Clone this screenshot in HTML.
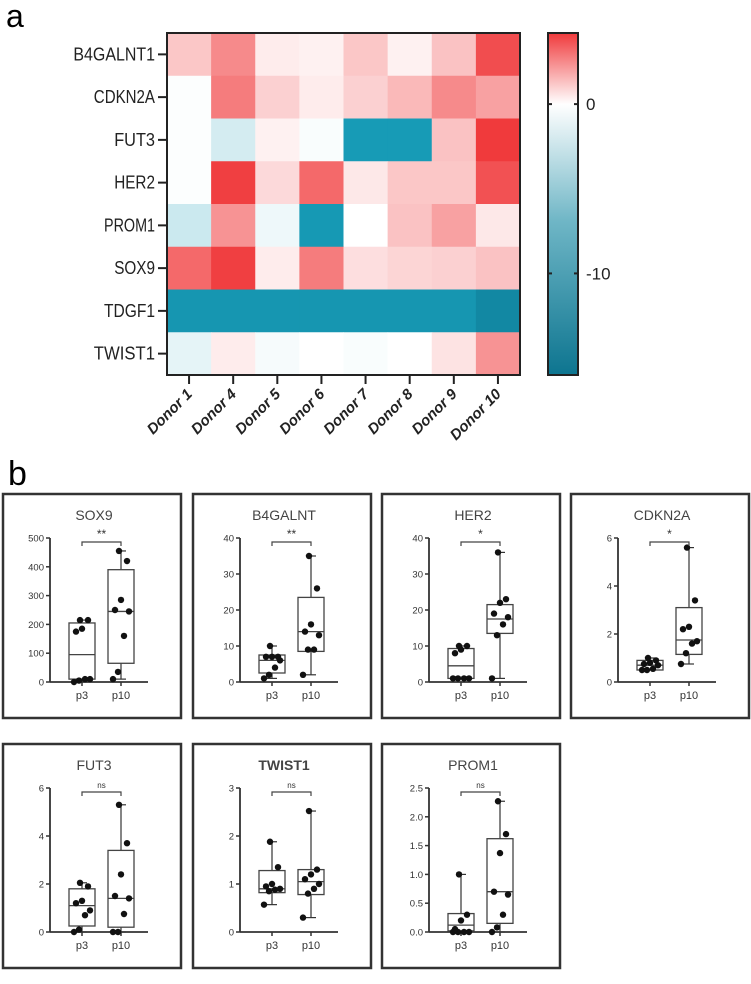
<!DOCTYPE html>
<html><head><meta charset="utf-8">
<style>
body{margin:0;background:#fff;width:751px;height:984px;overflow:hidden;font-family:"Liberation Sans",Arial,sans-serif}
svg{position:absolute;left:0;top:0}
</style></head>
<body>
<svg id="fig" width="751" height="984" viewBox="0 0 751 984">
<defs>
<linearGradient id="cbar" x1="0" y1="0" x2="0" y2="1">
<stop offset="0" stop-color="#f03a3c"/>
<stop offset="0.208" stop-color="#ffffff"/>
<stop offset="0.55" stop-color="#6fb6c6"/>
<stop offset="1" stop-color="#0d7590"/>
</linearGradient>
</defs>
<text x="6" y="27" font-size="32">a</text>
<text x="8" y="485" font-size="34">b</text>
<g id="heat"></g>
<g id="boxes"></g>
</svg>
<script>
const NS="http://www.w3.org/2000/svg";
const genes=["B4GALNT1","CDKN2A","FUT3","HER2","PROM1","SOX9","TDGF1","TWIST1"];
const donors=["Donor 1","Donor 4","Donor 5","Donor 6","Donor 7","Donor 8","Donor 9","Donor 10"];
const heatValues=[
[1.2,2.5,0.4,0.3,1.2,0.3,1.3,3.8],
[-0.1,2.8,1.0,0.4,1.0,1.5,2.5,2.0],
[-0.1,-1.5,0.3,-0.2,-8,-8,1.3,4.2],
[-0.1,4.1,0.8,3.2,0.5,1.2,1.2,3.7],
[-1.8,2.3,-0.6,-8.5,0,1.3,2.0,0.5],
[3.2,4.1,0.4,2.8,0.7,0.9,1.0,1.3],
[-9,-9,-9,-9,-9,-9,-9,-12],
[-0.9,0.4,-0.3,0,-0.2,0,0.6,2.3]];
const cbarTicks=[0,-10];

function el(tag,attrs,parent){const e=document.createElementNS(NS,tag);for(const k in attrs)e.setAttribute(k,attrs[k]);parent.appendChild(e);return e;}
function mix(a,b,t){return a.map((v,i)=>Math.round(v+(b[i]-v)*t));}
function color(v){
  if(v>=0){const t=Math.min(v/4.2,1);const c=mix([255,255,255],[240,58,60],t);return `rgb(${c})`;}
  const a=-v;
  if(a<=8){const c=mix([255,255,255],[23,155,182],a/8);return `rgb(${c})`;}
  const c=mix([23,155,182],[13,117,144],Math.min((a-8)/8,1));return `rgb(${c})`;
}
const H=document.getElementById('heat');
const hx0=167,hx1=520,hy0=33,hy1=375;
const cw=(hx1-hx0)/donors.length,rh=(hy1-hy0)/genes.length;
genes.forEach((g,r)=>{
  donors.forEach((d,c)=>{
    const rc=el('rect',{x:hx0+c*cw,y:hy0+r*rh,width:cw+0.5,height:rh+0.5,fill:color(heatValues[r][c])},H);
    
    
  });
  const yc=hy0+(r+0.5)*rh;
  el('line',{x1:hx0-9,x2:hx0,y1:yc,y2:yc,stroke:'#222','stroke-width':2},H);
  const t=el('text',{x:hx0-12,y:yc+6,'font-size':18,'text-anchor':'end',fill:'#222',textLength:g.length*10.2,lengthAdjust:'spacingAndGlyphs'},H);
  t.textContent=g;
  
  
});
el('rect',{x:hx0,y:hy0,width:hx1-hx0,height:hy1-hy0,fill:'none',stroke:'#222','stroke-width':2},H);
donors.forEach((d,c)=>{
  const xc=hx0+(c+0.5)*cw;
  el('line',{x1:xc,x2:xc,y1:hy1,y2:hy1+9,stroke:'#222','stroke-width':2},H);
  const t=el('text',{x:xc+4,y:hy1+20,'font-size':15,'font-weight':'bold','font-style':'italic','text-anchor':'end',transform:`rotate(-45 ${xc+4} ${hy1+20})`,fill:'#222'},H);
  t.textContent=d;
  
  
});
const cb=el('rect',{x:548,y:hy0,width:30,height:hy1-hy0,fill:'url(#cbar)',stroke:'#222','stroke-width':2},H);


const cbMax=4.2,cbMin=-16;
function cbY(v){return hy0+(cbMax-v)/(cbMax-cbMin)*(hy1-hy0);}
cbarTicks.forEach(v=>{
  const y=cbY(v);
  el('line',{x1:548,x2:552,y1:y,y2:y,stroke:'#222','stroke-width':2},H);
  el('line',{x1:574,x2:578,y1:y,y2:y,stroke:'#222','stroke-width':2},H);
  const t=el('text',{x:586,y:y+6,'font-size':17,fill:'#222'},H);
  t.textContent=String(v);
  
  
});

const panelTitles=["SOX9","B4GALNT","HER2","CDKN2A","FUT3","TWIST1","PROM1"];
const panelSig=["**","**","*","*","ns","ns","ns"];
const panelYMax=[500,40,40,6,6,3,2.5];
const panelTicks=[[0,100,200,300,400,500],[0,10,20,30,40],[0,10,20,30,40],[0,2,4,6],[0,2,4,6],[0,1,2,3],[0,0.5,1.0,1.5,2.0,2.5]];
const p3Points=[[0,5,10,10,175,185,215,215],[1,2,4,6,7,7,7,10],[1,1,1,1,8,9,10,10],[0.5,0.5,0.55,0.7,0.75,0.8,0.9,1.0],[0,0.1,0.7,0.9,1.2,1.3,1.9,2.05],[0.57,0.85,0.88,0.9,0.95,1.0,1.35,1.88],[0,0,0,0,0.05,0.2,0.3,1.0]];
const p10Points=[[10,35,160,245,250,285,420,455],[2,9,9,13,14,16,26,35],[1,13,16,18,19,22,23,36],[0.75,1.2,1.6,1.7,2.2,2.3,3.4,5.6],[0,0,0.75,1.4,1.5,2.4,3.7,5.3],[0.3,0.8,0.9,1.0,1.1,1.2,1.3,2.52],[0,0.08,0.3,0.65,0.7,1.37,1.7,2.27]];
const p3Box=[[10,95,205],[2.5,6,7.5],[1,4.5,9.3],[0.5,0.7,0.9],[0.25,1.1,1.8],[0.82,0.9,1.28],[0.02,0.12,0.32]];
const p10Box=[[65,245,390],[8.5,14,23.5],[13.5,17.5,21.5],[1.15,1.75,3.1],[0.2,1.4,3.4],[0.78,1.05,1.3],[0.15,0.7,1.62]];

const B=document.getElementById('boxes');
const colX=[2,192,381,570],rowY=[494,744];
panelTitles.forEach((title,i)=>{
  const L=colX[i%4],T=rowY[Math.floor(i/4)];
  const g=el('g',{},B);
  
  
  el('rect',{x:L+1,y:T,width:178,height:224,fill:'none',stroke:'#333','stroke-width':2.5},g);
  const tt=el('text',{x:L+92,y:T+26,'font-size':14,'text-anchor':'middle',fill:'#444','font-weight':title==='TWIST1'?'bold':'normal'},g);
  tt.textContent=title;
  
  
  const ax=L+48,y0=T+188,y1=T+44;
  const ymax=panelYMax[i];
  const Y=v=>y0-(v/ymax)*(y0-y1);
  const xs=[L+80,L+119];
  el('line',{x1:ax,x2:ax,y1:y1,y2:y0,stroke:'#333','stroke-width':1.8},g);
  el('line',{x1:ax,x2:L+146,y1:y0,y2:y0,stroke:'#333','stroke-width':1.8},g);
  panelTicks[i].forEach(v=>{
    const y=Y(v);
    el('line',{x1:ax-4,x2:ax,y1:y,y2:y,stroke:'#333','stroke-width':1.5},g);
    const t=el('text',{x:ax-6,y:y+3.5,'font-size':9.5,'text-anchor':'end',fill:'#333'},g);
    t.textContent=(ymax===2.5)?v.toFixed(1):String(v);
    
    
  });
  ["p3","p10"].forEach((lab,k)=>{
    el('line',{x1:xs[k],x2:xs[k],y1:y0,y2:y0+4,stroke:'#333','stroke-width':1.5},g);
    const t=el('text',{x:xs[k],y:y0+17,'font-size':11,'text-anchor':'middle',fill:'#333'},g);
    t.textContent=lab;
    
    
  });
  [[p3Points[i],p3Box[i]],[p10Points[i],p10Box[i]]].forEach(([pts,bx],k)=>{
    const cx=xs[k],hw=13;
    const mn=Math.min(...pts),mx=Math.max(...pts);
    el('line',{x1:cx,x2:cx,y1:Y(mx),y2:Y(bx[2]),stroke:'#333','stroke-width':1.2},g);
    el('line',{x1:cx,x2:cx,y1:Y(bx[0]),y2:Y(mn),stroke:'#333','stroke-width':1.2},g);
    el('line',{x1:cx-5,x2:cx+5,y1:Y(mx),y2:Y(mx),stroke:'#333','stroke-width':1.2},g);
    el('line',{x1:cx-5,x2:cx+5,y1:Y(mn),y2:Y(mn),stroke:'#333','stroke-width':1.2},g);
    const r=el('rect',{x:cx-hw,y:Y(bx[2]),width:2*hw,height:Y(bx[0])-Y(bx[2]),fill:'none',stroke:'#444','stroke-width':1.3},g);
    
    
    el('line',{x1:cx-hw,x2:cx+hw,y1:Y(bx[1]),y2:Y(bx[1]),stroke:'#444','stroke-width':1.3},g);
    const jit=[-8,-3,3,8,-6,0,6,-2];
    pts.forEach((v,j)=>{
      const d=el('circle',{cx:cx+jit[j%jit.length],cy:Y(v),r:3.2,fill:'#111'},g);
      
      
    });
  });
  const by=T+48;
  el('path',{d:`M${xs[0]} ${by+4}V${by}H${xs[1]}V${by+4}`,fill:'none',stroke:'#444','stroke-width':1.2},g);
  const s=el('text',{x:(xs[0]+xs[1])/2,y:by-4,'font-size':panelSig[i]==='ns'?8:12,'text-anchor':'middle',fill:'#333'},g);
  s.textContent=panelSig[i];
  
  
});
</script>
</body></html>
